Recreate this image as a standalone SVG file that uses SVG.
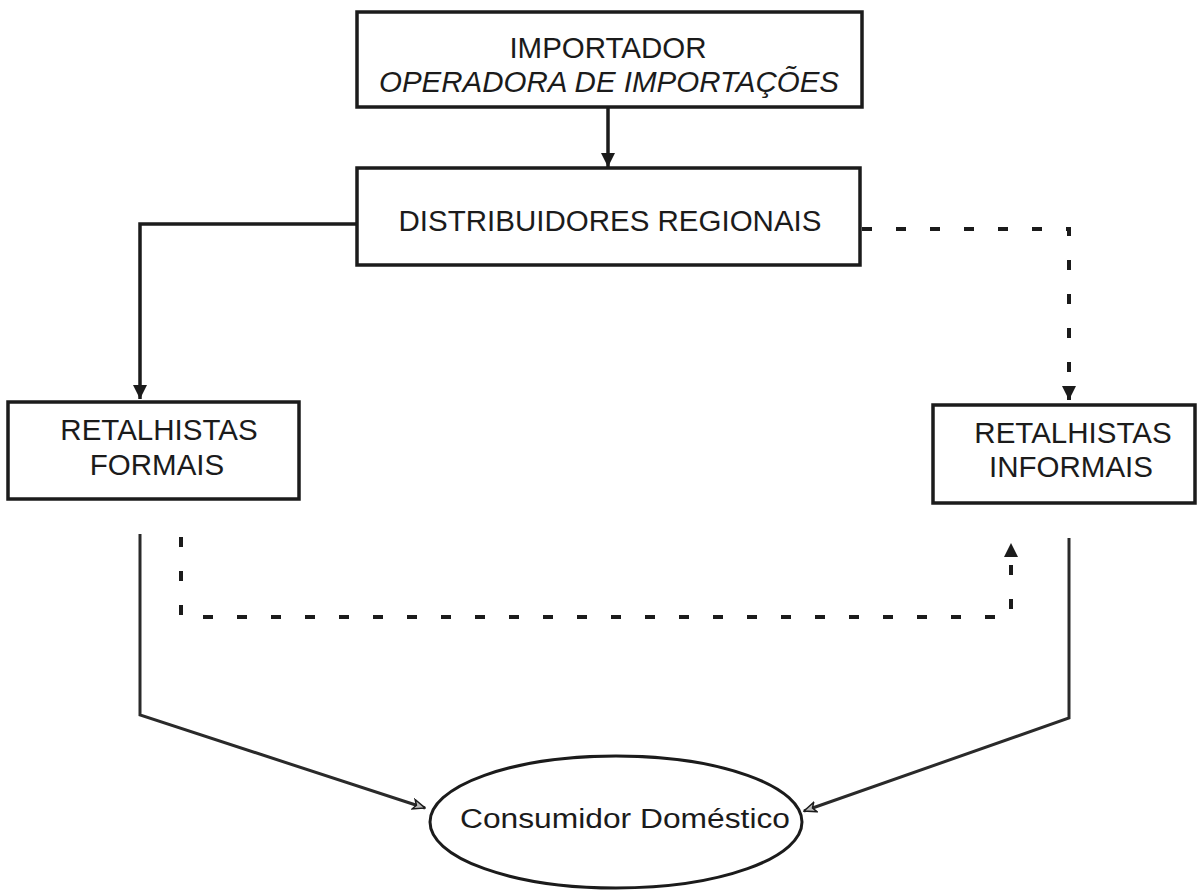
<svg xmlns="http://www.w3.org/2000/svg" width="1197" height="891" viewBox="0 0 1197 891">
<style>
.box{fill:#fff;stroke:#1b1b1b;stroke-width:3.5}
.t{font-family:"Liberation Sans",Arial,sans-serif;font-size:29.5px;fill:#1b1b1b;text-anchor:middle}
.solid{fill:none;stroke:#1b1b1b;stroke-width:3.5}
.thin{fill:none;stroke:#2a2a2a;stroke-width:3}
.dash{fill:none;stroke:#1b1b1b;stroke-width:4;stroke-dasharray:10 24}
</style>
<defs>
<marker id="ah" markerUnits="userSpaceOnUse" markerWidth="14" markerHeight="14" refX="14" refY="7" orient="auto">
<path d="M0,0 L14,7 L0,14 z" fill="#1b1b1b"/>
</marker>
<marker id="oh" markerUnits="userSpaceOnUse" markerWidth="14" markerHeight="12" refX="13" refY="6" orient="auto">
<path d="M1,1 L13,6 L1,11 L4,6 z" fill="#bbb" stroke="#1b1b1b" stroke-width="1.5"/>
</marker>
</defs>
<rect width="1197" height="891" fill="#fff"/>
<g id="connectors">
<line class="solid" x1="608" y1="108" x2="608" y2="167" marker-end="url(#ah)"/>
<polyline class="solid" points="357,224 140,224 140,399" marker-end="url(#ah)"/>
<polyline class="dash" points="862,229 1069,229 1069,400" marker-end="url(#ah)"/>
<polyline class="dash" points="181,537 181,617 1011,617 1011,543" marker-end="url(#ah)"/>
<polyline class="thin" points="140,534 140,715 425,808" marker-end="url(#oh)"/>
<polyline class="thin" points="1069,538 1069,718 804,811" marker-end="url(#oh)"/>
</g>
<g id="importador">
<rect class="box" x="357" y="12" width="505" height="95"/>
<text class="t" x="608" y="58">IMPORTADOR</text>
<text class="t" x="609" y="92" font-style="italic">OPERADORA DE IMPORTAÇÕES</text>
</g>
<g id="distribuidores">
<rect class="box" x="357" y="168" width="503" height="97"/>
<text class="t" x="610" y="231">DISTRIBUIDORES REGIONAIS</text>
</g>
<g id="formais">
<rect class="box" x="8" y="402" width="291" height="97"/>
<text class="t" x="159" y="440">RETALHISTAS</text>
<text class="t" x="157" y="475">FORMAIS</text>
</g>
<g id="informais">
<rect class="box" x="933" y="405" width="262" height="98"/>
<text class="t" x="1073" y="443">RETALHISTAS</text>
<text class="t" x="1071" y="477">INFORMAIS</text>
</g>
<g id="consumidor">
<ellipse cx="616" cy="822" rx="186" ry="66" fill="#fff" stroke="#1b1b1b" stroke-width="3"/>
<text x="460" y="828" font-family="Liberation Sans, Arial, sans-serif" font-size="27" fill="#1b1b1b" textLength="330" lengthAdjust="spacingAndGlyphs">Consumidor Doméstico</text>
</g>
</svg>
